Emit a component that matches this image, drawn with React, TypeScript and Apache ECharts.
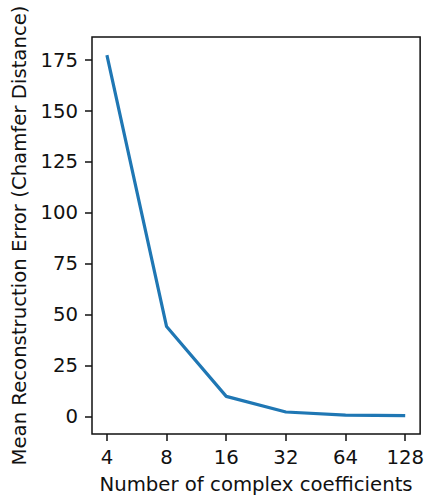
import React, { useEffect, useRef } from "react";
import * as echarts from "echarts";

const categories = ["4", "8", "16", "32", "64", "128"];
const errorValues = [177.5, 44.1, 9.8, 2.1, 0.6, 0.3];
const yTicks = [0, 25, 50, 75, 100, 125, 150, 175];

export default function App() {
  const ref = useRef<HTMLDivElement>(null);
  useEffect(() => {
    if (!ref.current) return;
    const chart = echarts.init(ref.current, null, { renderer: "svg" });
    const font = "DejaVu Sans";
    const fs = 19.7;
    chart.setOption({
      animation: false,
      grid: {
        left: 92,
        right: 2,
        top: 37,
        bottom: 66,
        show: true,
        borderColor: "#111",
        borderWidth: 1.5,
        backgroundColor: "transparent",
      },
      xAxis: {
        type: "value",
        min: -0.25,
        max: 5.25,
        name: "Number of complex coefficients",
        nameLocation: "middle",
        nameGap: 40,
        nameTextStyle: { fontFamily: font, fontSize: fs, color: "#111" },
        axisLine: { show: false, onZero: false },
        splitLine: { show: false },
        axisTick: {
          show: true,
          length: 7,
          customValues: categories.map((_, i) => i),
          lineStyle: { color: "#111", width: 1.5 },
        },
        axisLabel: {
          customValues: categories.map((_, i) => i),
          formatter: (v: number) => categories[Math.round(v)] ?? "",
          fontFamily: font,
          fontSize: fs,
          color: "#111",
          margin: 13,
        },
      },
      yAxis: {
        type: "value",
        min: -8.7,
        max: 186.4,
        name: "Mean Reconstruction Error (Chamfer Distance)",
        nameLocation: "middle",
        nameGap: 60,
        nameTextStyle: { fontFamily: font, fontSize: fs, color: "#111" },
        axisLine: { show: false, onZero: false },
        splitLine: { show: false },
        axisTick: {
          show: true,
          length: 7,
          customValues: yTicks,
          lineStyle: { color: "#111", width: 1.5 },
        },
        axisLabel: {
          customValues: yTicks,
          fontFamily: font,
          fontSize: fs,
          color: "#111",
          margin: 14,
        },
      },
      series: [
        {
          type: "line",
          data: errorValues.map((v, i) => [i, v]),
          showSymbol: false,
          symbol: "none",
          lineStyle: { color: "#1f77b4", width: 3.2 },
        },
      ],
    });
    return () => chart.dispose();
  }, []);
  return <div ref={ref} style={{ width: 427, height: 500, position: "absolute", left: 0, top: 0 }} />;
}
